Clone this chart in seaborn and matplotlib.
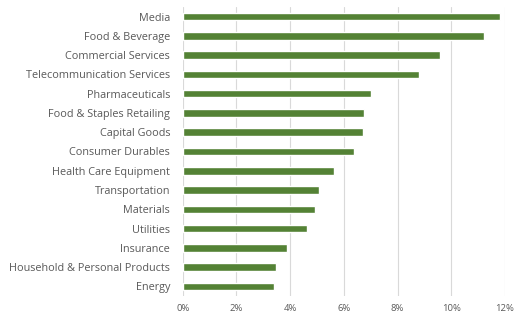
import matplotlib
matplotlib.use("Agg")
import matplotlib.pyplot as plt
import seaborn as sns
import pandas as pd
from matplotlib.ticker import FuncFormatter

categories = ["Media", "Food & Beverage", "Commercial Services", "Telecommunication Services",
              "Pharmaceuticals", "Food & Staples Retailing", "Capital Goods", "Consumer Durables",
              "Health Care Equipment", "Transportation", "Materials", "Utilities", "Insurance",
              "Household & Personal Products", "Energy"]
values = [11.82, 11.20, 9.58, 8.81, 7.00, 6.74, 6.71, 6.38, 5.63, 5.06, 4.91, 4.63, 3.88, 3.49, 3.41]
xticks = [0, 2, 4, 6, 8, 10, 12]

df = pd.DataFrame({"category": categories, "value": values})

sns.set_style("white")
plt.rcParams['font.family'] = ['Open Sans', 'DejaVu Sans']

fig = plt.figure(figsize=(5.15, 3.16), dpi=100)
ax = fig.add_axes([0.3548, 0.0633, 0.6258, 0.9147])
sns.barplot(data=df, x="value", y="category", orient="h", color="#548235",
            saturation=1, width=0.39, ax=ax, zorder=3)
ax.set_xlim(0, 12)
ax.set_ylim(14.5, -0.5)
ax.set_xticks(xticks)
ax.xaxis.set_major_formatter(FuncFormatter(lambda v, p: f"{int(v)}%"))
ax.grid(axis="x", color="#d9d9d9", linewidth=0.8, zorder=0)
ax.set_xlabel("")
ax.set_ylabel("")
for s in ax.spines.values():
    s.set_visible(False)
ax.tick_params(axis="y", length=0, pad=9, labelsize=7.8, labelcolor="#595959")
ax.tick_params(axis="x", length=0, pad=6, labelsize=6.8, labelcolor="#595959")
fig.savefig("out.png", dpi=100)
